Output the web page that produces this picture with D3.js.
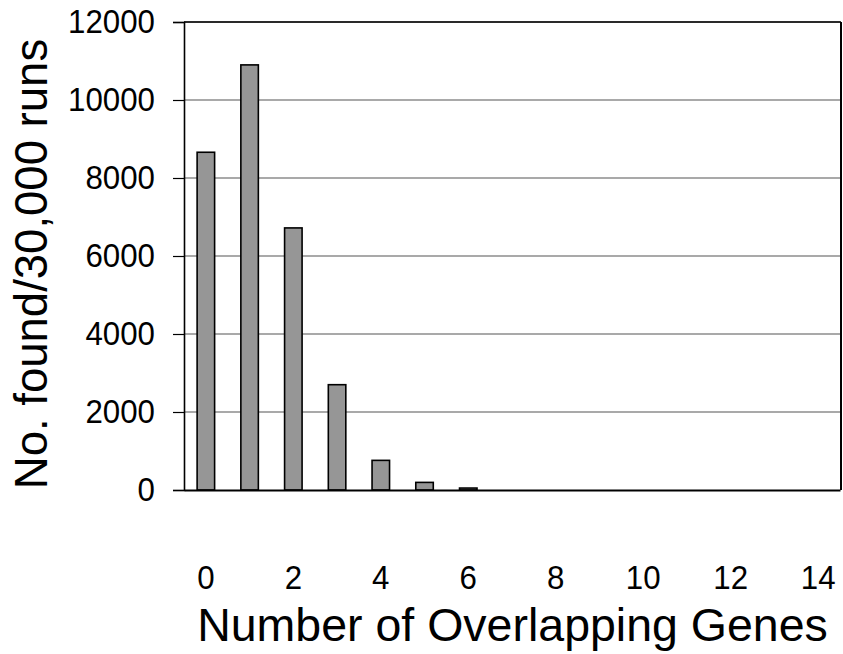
<!DOCTYPE html>
<html>
<head>
<meta charset="utf-8">
<script src="https://cdn.jsdelivr.net/npm/d3@7"></script>
<style>
  html, body { margin: 0; padding: 0; background: #fff; }
  svg { display: block; font-family: "Liberation Sans", Arial, sans-serif; }
</style>
</head>
<body>
<svg id="chart" width="843" height="654"></svg>
<script>
const categories = [0, 1, 2, 3, 4, 5, 6, 7, 8, 9, 10, 11, 12, 13, 14];
const counts = [8660, 10900, 6720, 2700, 760, 195, 50, 0, 0, 0, 0, 0, 0, 0, 0];
const xTickLabels = [0, 2, 4, 6, 8, 10, 12, 14];
const yTicks = [0, 2000, 4000, 6000, 8000, 10000, 12000];
const xTitle = "Number of Overlapping Genes";
const yTitle = "No. found/30,000 runs";

const svg = d3.select("#chart");
const pLeft = 184, pRight = 840, pTop = 22, pBottom = 490;

const x = d3.scaleBand().domain(categories).range([pLeft, pRight]).paddingInner(0.6).paddingOuter(0.3);
const y = d3.scaleLinear().domain([0, 12000]).range([pBottom, pTop]);

// gridlines
svg.append("g").selectAll("line").data(yTicks.filter(d => d > 0)).join("line")
  .attr("x1", pLeft).attr("x2", pRight)
  .attr("y1", d => y(d)).attr("y2", d => y(d))
  .attr("stroke", "#555").attr("stroke-width", 1.2);

// frame top/right
svg.append("line").attr("x1", pLeft).attr("x2", pRight + 1).attr("y1", pTop).attr("y2", pTop)
  .attr("stroke", "#000").attr("stroke-width", 1.5);
svg.append("line").attr("x1", pRight + 1).attr("x2", pRight + 1).attr("y1", pTop).attr("y2", pBottom)
  .attr("stroke", "#000").attr("stroke-width", 2);

// bars
svg.append("g").selectAll("rect").data(categories).join("rect")
  .attr("x", (d) => x(d))
  .attr("width", x.bandwidth())
  .attr("y", (d, i) => y(counts[i]))
  .attr("height", (d, i) => pBottom - y(counts[i]))
  .attr("fill", "#969696")
  .attr("stroke", "#000")
  .attr("stroke-width", 1.6);

// y axis
const yAxis = d3.axisLeft(y).tickValues(yTicks).tickSize(11).tickPadding(18).tickFormat(d3.format("d"));
const gy = svg.append("g").attr("transform", `translate(${pLeft},0)`).call(yAxis);
gy.select(".domain").attr("stroke", "#000").attr("stroke-width", 1.6);
gy.selectAll(".tick line").attr("stroke", "#000").attr("stroke-width", 1.2);
gy.selectAll(".tick text").attr("font-size", 34).attr("fill", "#000")
  .attr("x", 0)
  .attr("transform", "translate(-29,0) scale(0.92,1)")
  .attr("font-family", "Liberation Sans, Arial, sans-serif");

// x axis
const xAxis = d3.axisBottom(x).tickValues(xTickLabels).tickSize(0).tickPadding(0);
const gx = svg.append("g").attr("transform", `translate(0,${pBottom})`).call(xAxis);
gx.select(".domain").attr("stroke", "#000").attr("stroke-width", 2.2);
gx.selectAll(".tick text").attr("font-size", 34).attr("fill", "#000")
  .attr("dy", null).attr("y", 0)
  .attr("transform", "translate(0,99) scale(0.92,1)")
  .attr("font-family", "Liberation Sans, Arial, sans-serif");

// titles
svg.append("text").attr("x", 512.5).attr("y", 641).attr("text-anchor", "middle")
  .attr("font-size", 46.5).attr("fill", "#000").text(xTitle);
svg.append("text").attr("transform", "translate(47,264) rotate(-90)").attr("text-anchor", "middle")
  .attr("font-size", 45.5).attr("fill", "#000").text(yTitle);
</script>
</body>
</html>
